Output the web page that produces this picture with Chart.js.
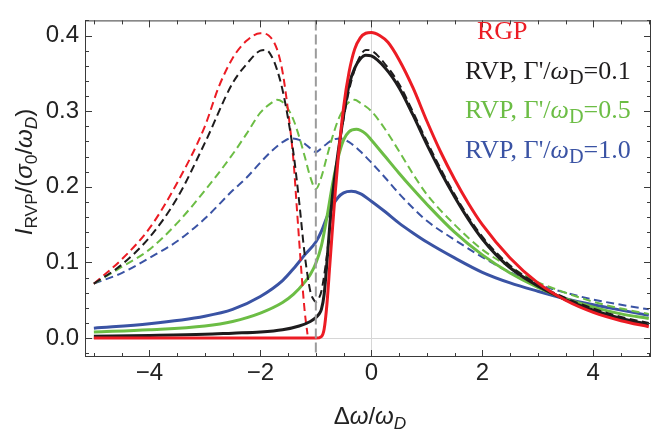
<!DOCTYPE html>
<html>
<head>
<meta charset="utf-8">
<script src="https://cdn.jsdelivr.net/npm/chart.js@4.4.1/dist/chart.umd.min.js"></script>
<style>
  html, body { margin: 0; padding: 0; background: #fff; }
  #wrap { width: 654px; height: 435px; }
</style>
</head>
<body>
<div id="wrap"><canvas id="chart" width="654" height="435"></canvas></div>
<script>
// ---- data ----
const xTicks = [-4, -2, 0, 2, 4];
const yTicks = [0, 0.1, 0.2, 0.3, 0.4];

// RGP, solid
const rgpX = [-5, -4, -3, -2, -1.5, -1.2, -1, -0.9, -0.85, -0.8, -0.75, -0.7, -0.65, -0.6, -0.5, -0.4, -0.3, -0.2, -0.1, 0, 0.15, 0.3, 0.5, 0.75, 1, 1.25, 1.5, 1.75, 2, 2.5, 3, 3.5, 4, 4.5, 5];
const rgpY = [0, 0, 0, 0, 0, 0, 0, 0.002, 0.012, 0.045, 0.095, 0.145, 0.193, 0.236, 0.305, 0.352, 0.382, 0.397, 0.403, 0.404, 0.400, 0.391, 0.368, 0.331, 0.287, 0.246, 0.210, 0.178, 0.150, 0.106, 0.073, 0.050, 0.034, 0.023, 0.015];
// RGP, dashed
const rgpDashX = [-5, -4.5, -4, -3.5, -3, -2.75, -2.5, -2.25, -2, -1.85, -1.7, -1.6, -1.5, -1.4, -1.35, -1.3, -1.25, -1.2, -1.15];
const rgpDashY = [0.072, 0.104, 0.145, 0.205, 0.280, 0.332, 0.370, 0.393, 0.403, 0.400, 0.382, 0.352, 0.300, 0.232, 0.180, 0.128, 0.078, 0.035, 0.005];

// RVP, G'/wD = 0.1
const rvp01X = [-5, -4, -3, -2.5, -2, -1.6, -1.3, -1.1, -1, -0.95, -0.9, -0.85, -0.8, -0.75, -0.7, -0.65, -0.6, -0.5, -0.4, -0.3, -0.2, -0.1, 0, 0.25, 0.5, 0.75, 1, 1.25, 1.5, 1.75, 2, 2.25, 2.5, 3, 3.5, 4, 4.5, 5];
const rvp01Y = [0.0025, 0.0035, 0.005, 0.0065, 0.008, 0.011, 0.016, 0.022, 0.027, 0.031, 0.038, 0.058, 0.100, 0.148, 0.188, 0.218, 0.245, 0.294, 0.335, 0.357, 0.369, 0.374, 0.373, 0.357, 0.331, 0.295, 0.256, 0.220, 0.187, 0.157, 0.131, 0.110, 0.093, 0.069, 0.051, 0.037, 0.026, 0.018];
const rvp01DashX = [-5, -4.5, -4, -3.5, -3, -2.5, -2.25, -2, -1.9, -1.8, -1.7, -1.6, -1.5, -1.4, -1.3, -1.2, -1.1, -1.05, -1, -0.95, -0.9, -0.8, -0.7, -0.6, -0.5, -0.4, -0.3, -0.2, -0.1, 0, 0.25, 0.5, 0.75, 1, 1.5, 2, 2.5, 3, 3.5, 4, 4.5, 5];
const rvp01DashY = [0.072, 0.097, 0.133, 0.185, 0.258, 0.337, 0.362, 0.380, 0.381, 0.373, 0.355, 0.328, 0.290, 0.243, 0.180, 0.110, 0.062, 0.052, 0.048, 0.052, 0.062, 0.110, 0.180, 0.243, 0.290, 0.328, 0.355, 0.373, 0.381, 0.380, 0.362, 0.336, 0.299, 0.260, 0.190, 0.134, 0.096, 0.071, 0.053, 0.039, 0.028, 0.020];

// RVP, G'/wD = 0.5
const rvp05X = [-5, -4, -3, -2.5, -2, -1.6, -1.4, -1.2, -1.1, -1, -0.9, -0.8, -0.7, -0.6, -0.5, -0.4, -0.27, -0.1, 0, 0.25, 0.5, 0.75, 1, 1.5, 2, 2.5, 3, 3.5, 4, 4.5, 5];
const rvp05Y = [0.008, 0.011, 0.016, 0.022, 0.033, 0.047, 0.058, 0.074, 0.084, 0.099, 0.122, 0.160, 0.203, 0.238, 0.262, 0.273, 0.276, 0.270, 0.262, 0.240, 0.218, 0.197, 0.177, 0.140, 0.110, 0.086, 0.067, 0.052, 0.041, 0.032, 0.026];
const rvp05DashX = [-5, -4.5, -4, -3.5, -3, -2.5, -2.25, -2, -1.8, -1.7, -1.6, -1.5, -1.4, -1.3, -1.2, -1.1, -1, -0.9, -0.8, -0.7, -0.6, -0.5, -0.4, -0.3, -0.2, 0, 0.25, 0.5, 0.75, 1, 1.5, 2, 2.5, 3, 3.5, 4, 4.5, 5];
const rvp05DashY = [0.072, 0.094, 0.117, 0.152, 0.195, 0.243, 0.270, 0.298, 0.311, 0.315, 0.312, 0.303, 0.288, 0.266, 0.240, 0.213, 0.197, 0.213, 0.240, 0.266, 0.288, 0.303, 0.312, 0.315, 0.311, 0.300, 0.276, 0.247, 0.217, 0.190, 0.150, 0.117, 0.094, 0.074, 0.060, 0.048, 0.039, 0.032];

// RVP, G'/wD = 1.0
const rvp10X = [-5, -4, -3, -2.5, -2, -1.6, -1.4, -1.2, -1, -0.9, -0.8, -0.7, -0.6, -0.5, -0.36, -0.2, 0, 0.25, 0.5, 0.75, 1, 1.5, 2, 2.5, 3, 3.5, 4, 4.5, 5];
const rvp10Y = [0.013, 0.019, 0.029, 0.038, 0.055, 0.076, 0.092, 0.110, 0.127, 0.141, 0.160, 0.175, 0.186, 0.192, 0.194, 0.191, 0.181, 0.167, 0.152, 0.139, 0.127, 0.106, 0.087, 0.073, 0.062, 0.052, 0.044, 0.037, 0.030];
const rvp10DashX = [-5, -4.5, -4, -3.5, -3, -2.5, -2.25, -2, -1.8, -1.6, -1.45, -1.3, -1.2, -1.1, -1, -0.9, -0.8, -0.7, -0.55, -0.4, -0.2, 0, 0.25, 0.5, 0.75, 1, 1.5, 2, 2.5, 3, 3.5, 4, 4.5, 5];
const rvp10DashY = [0.072, 0.086, 0.106, 0.128, 0.158, 0.195, 0.212, 0.232, 0.247, 0.259, 0.264, 0.262, 0.257, 0.251, 0.246, 0.251, 0.257, 0.262, 0.264, 0.259, 0.247, 0.232, 0.212, 0.191, 0.172, 0.155, 0.130, 0.107, 0.087, 0.071, 0.060, 0.051, 0.044, 0.038];

const RED = '#ec1c24';
const BLACK = '#1e1c1d';
const GREEN = '#6cbd45';
const BLUE = '#3a53a4';
const SANS = '"Liberation Sans", Arial, Helvetica, sans-serif';
const SERIF = '"Liberation Serif", "Times New Roman", serif';

function pts(xs, ys) {
    return xs.map((x, i) => ({ x: x, y: ys[i] }));
}

function line(data, color, dashed, order) {
    return {
        data: data,
        borderColor: color,
        borderWidth: dashed ? 2 : 3,
        borderDash: dashed ? [8, 4.5] : [],
        pointRadius: 0,
        fill: false,
        cubicInterpolationMode: 'monotone',
        order: order
    };
}

// draw text made of pieces: [text, italic, subscript]
function drawRich(ctx, parts, x, y, size, family, align, subScale) {
    const fontOf = p => (p[1] ? 'italic ' : '') + (p[2] ? size * subScale : size) + 'px ' + family;
    let total = 0;
    const widths = parts.map(p => { ctx.font = fontOf(p); const w = ctx.measureText(p[0]).width; total += w; return w; });
    let cx = align === 'center' ? x - total / 2 : x;
    ctx.textBaseline = 'alphabetic';
    ctx.textAlign = 'left';
    parts.forEach((p, i) => {
        ctx.font = fontOf(p);
        ctx.fillText(p[0], cx, p[2] ? y + size * 0.2 : y);
        cx += widths[i];
    });
}

/** frame, inward ticks, gridlines and the x = -1 marker */
const framePlugin = {
    id: 'frame',
    beforeDatasetsDraw(chart) {
        const { ctx, chartArea: a, scales: { x, y } } = chart;
        ctx.save();
        ctx.strokeStyle = '#d6d6d6';
        ctx.lineWidth = 1;
        ctx.beginPath();
        const x0 = Math.round(x.getPixelForValue(0)) + 0.5;
        const y0 = Math.round(y.getPixelForValue(0)) + 0.5;
        ctx.moveTo(x0, a.top); ctx.lineTo(x0, a.bottom);
        ctx.moveTo(a.left, y0); ctx.lineTo(a.right, y0);
        ctx.stroke();
        ctx.restore();
    },
    afterDatasetsDraw(chart) {
        const { ctx, chartArea: a, scales: { x, y } } = chart;
        ctx.save();
        // dashed marker at x = -1
        const xm = x.getPixelForValue(-1);
        ctx.strokeStyle = '#9b9b9b';
        ctx.lineWidth = 2;
        ctx.setLineDash([10, 4]);
        ctx.beginPath();
        ctx.moveTo(xm, a.top); ctx.lineTo(xm, a.bottom);
        ctx.stroke();
        ctx.setLineDash([]);

        // frame
        ctx.strokeStyle = '#3a3a3a';
        ctx.lineWidth = 1;
        ctx.strokeRect(a.left + 0.5, a.top + 0.5, a.right - a.left - 1, a.bottom - a.top - 1);

        ctx.beginPath();
        for (let v = -5; v <= 5.001; v += 0.5) {
            const px = Math.round(x.getPixelForValue(v)) + 0.5;
            const len = xTicks.includes(Math.round(v * 10) / 10) ? 7 : 4;
            ctx.moveTo(px, a.bottom); ctx.lineTo(px, a.bottom - len);
            ctx.moveTo(px, a.top); ctx.lineTo(px, a.top + len);
        }
        for (let k = -1; k <= 21; k++) {
            const v = k * 0.02;
            const py = Math.round(y.getPixelForValue(v)) + 0.5;
            if (py < a.top || py > a.bottom) continue;
            const len = k % 5 === 0 ? 7 : 4;
            ctx.moveTo(a.left, py); ctx.lineTo(a.left + len, py);
            ctx.moveTo(a.right, py); ctx.lineTo(a.right - len, py);
        }
        ctx.stroke();
        ctx.restore();
    },
    afterDraw(chart) {
        const { ctx } = chart;
        ctx.save();
        ctx.fillStyle = '#222';
        // x title
        drawRich(ctx, [['\u0394', false], ['\u03c9', true], ['/', false], ['\u03c9', true], ['D', true, true]], 370, 424, 24, SANS, 'center', 0.72);
        // y title
        ctx.translate(32, 172);
        ctx.rotate(-Math.PI / 2);
        drawRich(ctx, [['I', true], ['RVP', false, true], ['/(', false], ['\u03c3', true], ['0', false, true], ['/', false], ['\u03c9', true], ['D', true, true], [')', false]], 0, 0, 24, SANS, 'center', 0.72);
        ctx.restore();

        // legend text
        ctx.save();
        const rows = [
            { color: RED, x: 477, y: 39, parts: [['RGP', false]] },
            { color: BLACK, x: 465, y: 79, parts: [["RVP, \u0393'/", false], ['\u03c9', true], ['D', false, true], ['=0.1', false]] },
            { color: GREEN, x: 465, y: 118, parts: [["RVP, \u0393'/", false], ['\u03c9', true], ['D', false, true], ['=0.5', false]] },
            { color: BLUE, x: 465, y: 158, parts: [["RVP, \u0393'/", false], ['\u03c9', true], ['D', false, true], ['=1.0', false]] }
        ];
        rows.forEach(r => {
            ctx.fillStyle = r.color;
            drawRich(ctx, r.parts, r.x, r.y, 26, SERIF, 'left', 0.78);
        });
        ctx.restore();
    }
};

new Chart(document.getElementById('chart'), {
    type: 'line',
    data: {
        datasets: [
            line(pts(rgpX, rgpY), RED, false, 1),
            line(pts(rvp01X, rvp01Y), BLACK, false, 2),
            line(pts(rvp01DashX, rvp01DashY), BLACK, true, 3),
            line(pts(rgpDashX, rgpDashY), RED, true, 4),
            line(pts(rvp05X, rvp05Y), GREEN, false, 5),
            line(pts(rvp05DashX, rvp05DashY), GREEN, true, 6),
            line(pts(rvp10X, rvp10Y), BLUE, false, 7),
            line(pts(rvp10DashX, rvp10DashY), BLUE, true, 8)
        ]
    },
    options: {
        responsive: false,
        animation: false,
        devicePixelRatio: 1,
        layout: { padding: { top: 4, right: 3, left: 0, bottom: 0 } },
        plugins: { legend: { display: false }, tooltip: { enabled: false } },
        scales: {
            x: {
                type: 'linear',
                min: -5.16,
                max: 5.04,
                grid: { display: false, drawTicks: false },
                border: { display: false },
                afterBuildTicks: s => { s.ticks = xTicks.map(v => ({ value: v })); },
                afterFit: s => { s.height = 78; },
                ticks: {
                    padding: 2,
                    maxRotation: 0,
                    autoSkip: false,
                    color: '#222',
                    font: { family: SANS, size: 24 },
                    callback: v => (v < 0 ? '\u2212' + Math.abs(v) : String(v))
                }
            },
            y: {
                min: -0.025,
                max: 0.42,
                grid: { display: false, drawTicks: false },
                border: { display: false },
                afterBuildTicks: s => { s.ticks = yTicks.map(v => ({ value: v })); },
                afterFit: s => { s.width = 85; },
                ticks: {
                    padding: 6,
                    color: '#222',
                    font: { family: SANS, size: 24 },
                    callback: v => v.toFixed(1)
                }
            }
        }
    },
    plugins: [framePlugin]
});
</script>
</body>
</html>
